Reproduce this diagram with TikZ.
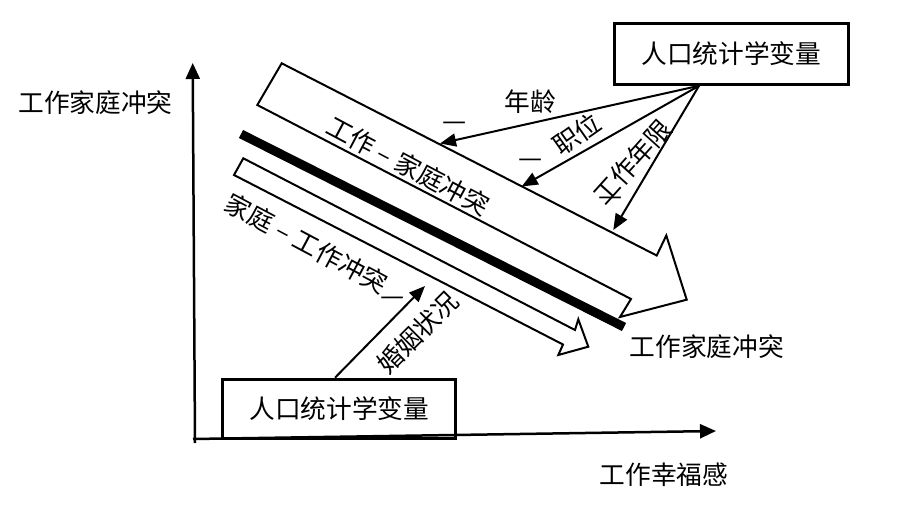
\documentclass[tikz,border=0pt]{standalone}
\usepackage{fontspec}
\newfontfamily\cjk{Noto Sans CJK SC}
\usetikzlibrary{arrows.meta}
\newcommand{\slotdash}{\makebox[25.7pt]{–}}
\begin{document}
\begin{tikzpicture}[x=1pt,y=-1pt,
  lbl/.style={font=\cjk\fontsize{25.7}{28}\selectfont, inner sep=0pt},
  boxnode/.style={draw, line width=3pt, lbl},
  conn/.style={line width=2pt, -{Triangle[length=16pt,width=13pt]}},
  axisline/.style={line width=2.5pt, -{Triangle[length=16pt,width=14pt]}},
  band/.style={draw, line width=2pt, line join=miter, fill=white},
  minus/.style={font=\cjk\fontsize{27}{29}\selectfont, inner sep=0pt}]
\useasboundingbox (0,0) rectangle (921,505);
% axes
\coordinate (ybase) at (195,443);
\coordinate (ytip) at (192.7,63);
\coordinate (xbase) at (193,439);
\coordinate (xtip) at (716,431);
\draw[axisline] (ybase) -- (ytip);
\draw[axisline] (xbase) -- (xtip);
% work-family conflict band arrow
\draw[band] (281.7,63.3) -- (656.7,255.5) -- (666.3,235.5) -- (686.7,299.7)
  -- (620,317) -- (631,299) -- (257.3,105) -- cycle;
% thick bar
\coordinate (bara) at (241,134);
\coordinate (barb) at (624,327);
\draw[line width=9pt] (bara) -- (barb);
% family-work conflict band arrow
\draw[band] (243.3,158.3) -- (575,330) -- (578.3,319.3) -- (588.3,346.7)
  -- (558.3,355) -- (563,344.5) -- (234,175) -- cycle;
% boxes
\node[boxnode, minimum width=234pt, minimum height=61pt] (top) at (731.3,53.8) {人口统计学变量};
\node[boxnode, minimum width=233pt, minimum height=59pt] (bot) at (339.3,408.7) {人口统计学变量};
% connectors
\coordinate (src) at ([xshift=-32.3pt]top.south);
\coordinate (t1) at (440,143.5);
\coordinate (t2) at (521.7,186.5);
\coordinate (t3) at (613.3,230);
\coordinate (bsrc) at ([xshift=-4.3pt]bot.north);
\coordinate (t4) at (425,286);
\draw[conn] (src) -- (t1);
\draw[conn] (src) -- (t2);
\draw[conn] (src) -- (t3);
\draw[conn] (bsrc) -- (t4);
% labels
\node[lbl] (ylab) at (95.5,103) {工作家庭冲突};
\node[lbl] (xlab) at (664,475) {工作幸福感};
\node[lbl] (endlab) at (706.7,346.7) {工作家庭冲突};
\node[lbl] (age) at (530,101.7) {年龄};
\node[lbl, rotate=35] (pos) at (576.7,134) {职位};
\node[lbl, rotate=48] (tenure) at (632.5,162) {工作年限};
\node[lbl, rotate=45] (marr) at (417.5,332.5) {婚姻状况};
\node[lbl, rotate=-28] (wfc) at (408.3,165.8) {工作\slotdash 家庭冲突};
\node[lbl, rotate=-28] (fwc) at (306.7,243.3) {家庭\slotdash 工作冲突};
\node[minus] (m1) at (455,126.7) {—};
\node[minus] (m2) at (531,163.3) {—};
\node[minus] (m3) at (610.5,201.7) {—};
\node[minus] (m4) at (392.5,301.7) {—};
\end{tikzpicture}
\end{document}
